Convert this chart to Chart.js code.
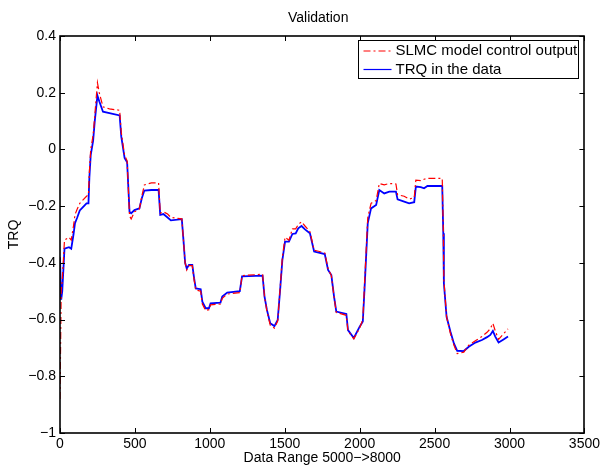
<!DOCTYPE html>
<html>
<head>
<meta charset="utf-8">
<title>Validation</title>
<script src="https://cdn.jsdelivr.net/npm/chart.js@4/dist/chart.umd.min.js"></script>
<style>
    html, body { margin: 0; padding: 0; background: #fff; }
    canvas { display: block; }
</style>
</head>
<body>
<canvas id="chart" width="603" height="467"></canvas>
<script>
// sample positions (data index 0..3000)
const xs = [0, 8, 15, 30, 60, 75, 90, 100, 115, 132, 150, 177, 190, 196, 205, 221, 232, 250, 262, 287,
    330, 398, 409, 431, 448, 464, 475, 497, 530, 546, 563, 610, 658, 669, 690, 718, 740, 813, 824, 835,
    846, 861, 883, 895, 906, 939, 950, 972, 994, 1005, 1071, 1083, 1116, 1200, 1215, 1352, 1365, 1381, 1403, 1431,
    1453, 1469, 1484, 1502, 1528, 1551, 1573, 1590, 1612, 1635, 1668, 1696, 1767, 1789, 1811, 1829, 1844, 1911, 1922, 1961,
    2000, 2021, 2032, 2054, 2076, 2110, 2131, 2164, 2198, 2242, 2253, 2297, 2330, 2364, 2375, 2408, 2430, 2452, 2551, 2558,
    2562, 2580, 2606, 2629, 2651, 2695, 2728, 2772, 2816, 2850, 2872, 2889, 2905, 2927, 2960, 2990];

// SLMC model control output (red dash-dot)
const modelOutput = [-0.88, -0.50, -0.46, -0.32, -0.31, -0.32, -0.27, -0.23, -0.21, -0.19, -0.18, -0.165, -0.16, -0.08, 0.0, 0.05, 0.12, 0.235, 0.20, 0.15,
    0.143, 0.138, 0.06, -0.02, -0.04, -0.235, -0.245, -0.22, -0.21, -0.165, -0.125, -0.118, -0.118, -0.225, -0.22, -0.228, -0.24, -0.245, -0.32, -0.40,
    -0.425, -0.41, -0.41, -0.46, -0.495, -0.50, -0.545, -0.568, -0.565, -0.548, -0.545, -0.525, -0.51, -0.505, -0.445, -0.44, -0.52, -0.57, -0.62, -0.63,
    -0.605, -0.49, -0.38, -0.31, -0.32, -0.28, -0.28, -0.265, -0.255, -0.27, -0.29, -0.355, -0.365, -0.42, -0.445, -0.52, -0.575, -0.585, -0.64, -0.668,
    -0.63, -0.60, -0.48, -0.24, -0.19, -0.18, -0.12, -0.125, -0.12, -0.122, -0.16, -0.165, -0.175, -0.17, -0.108, -0.11, -0.105, -0.102, -0.102, -0.28,
    -0.46, -0.59, -0.65, -0.69, -0.72, -0.715, -0.69, -0.675, -0.66, -0.645, -0.632, -0.613, -0.64, -0.67, -0.65, -0.633];

// TRQ in the data (blue solid)
const trqData = [-0.38, -0.53, -0.50, -0.35, -0.345, -0.35, -0.30, -0.26, -0.24, -0.215, -0.205, -0.19, -0.19, -0.10, -0.02, 0.03, 0.10, 0.19, 0.17, 0.133,
    0.128, 0.12, 0.045, -0.03, -0.045, -0.22, -0.225, -0.214, -0.208, -0.172, -0.145, -0.143, -0.143, -0.231, -0.228, -0.24, -0.25, -0.246, -0.32, -0.40,
    -0.42, -0.407, -0.407, -0.454, -0.49, -0.493, -0.537, -0.56, -0.56, -0.543, -0.54, -0.519, -0.505, -0.50, -0.448, -0.445, -0.519, -0.566, -0.613, -0.623,
    -0.601, -0.496, -0.39, -0.325, -0.325, -0.298, -0.296, -0.278, -0.27, -0.282, -0.296, -0.36, -0.369, -0.425, -0.443, -0.519, -0.572, -0.58, -0.637, -0.665,
    -0.625, -0.607, -0.496, -0.26, -0.208, -0.196, -0.143, -0.155, -0.149, -0.149, -0.176, -0.184, -0.19, -0.186, -0.131, -0.133, -0.137, -0.129, -0.129, -0.296,
    -0.472, -0.59, -0.643, -0.684, -0.71, -0.711, -0.696, -0.681, -0.672, -0.662, -0.654, -0.64, -0.66, -0.681, -0.67, -0.66];

const seriesNames = ['SLMC model control output', 'TRQ in the data'];
const xTicks = [0, 500, 1000, 1500, 2000, 2500, 3000, 3500];
const yTicks = [-1, -0.8, -0.6, -0.4, -0.2, 0, 0.2, 0.4];
const chartTitle = 'Validation';

const FONT = "'Liberation Sans', Arial, Helvetica, sans-serif";
Chart.defaults.font.family = FONT;
Chart.defaults.color = '#000';

function toPoints(values) {
    return xs.map((x, i) => ({ x: x, y: values[i] }));
}

function fmt(v) {
    const r = Math.round(v * 10) / 10;
    return String(r).replace('-', '\u2212');
}

// MATLAB-like box with inward ticks on all four sides, title centred over the axes
const boxAxes = {
    id: 'boxAxes',
    afterDraw(chart) {
        const ctx = chart.ctx;
        const { left, right, top, bottom } = chart.chartArea;
        const sx = chart.scales.x, sy = chart.scales.y;
        const len = 5;
        ctx.save();
        ctx.strokeStyle = '#000';
        ctx.lineWidth = 1;
        ctx.beginPath();
        xTicks.forEach(v => {
            const px = Math.round(sx.getPixelForValue(v)) + 0.5;
            ctx.moveTo(px, bottom); ctx.lineTo(px, bottom - len);
            ctx.moveTo(px, top); ctx.lineTo(px, top + len);
        });
        yTicks.forEach(v => {
            const py = Math.round(sy.getPixelForValue(v)) + 0.5;
            ctx.moveTo(left, py); ctx.lineTo(left + len, py);
            ctx.moveTo(right, py); ctx.lineTo(right - len, py);
        });
        ctx.stroke();
        ctx.lineWidth = 1.6;
        ctx.strokeRect(Math.round(left), Math.round(top),
            Math.round(right - left), Math.round(bottom - top));

        ctx.fillStyle = '#000';
        ctx.font = '14px ' + FONT;
        ctx.textAlign = 'center';
        ctx.textBaseline = 'middle';
        ctx.fillText(chartTitle, (left + right) / 2 - 4, 18);
        ctx.restore();
    }
};

// legend box in the top right corner of the axes
const boxLegend = {
    id: 'boxLegend',
    afterDraw(chart) {
        const ctx = chart.ctx;
        const { right, top } = chart.chartArea;
        const w = 220, h = 38;
        const x0 = Math.round(right - 6 - w) + 0.5, y0 = Math.round(top + 4) + 0.5;
        ctx.save();
        ctx.fillStyle = '#fff';
        ctx.fillRect(x0, y0, w, h);
        ctx.strokeStyle = '#000';
        ctx.lineWidth = 1;
        ctx.strokeRect(x0, y0, w, h);
        ctx.font = '15px ' + FONT;
        ctx.textBaseline = 'middle';
        chart.data.datasets.forEach((ds, i) => {
            const cy = y0 + 10.5 + i * 18.5;
            ctx.strokeStyle = ds.borderColor;
            ctx.lineWidth = 1.2;
            ctx.setLineDash(ds.borderDash || []);
            ctx.beginPath();
            ctx.moveTo(x0 + 5, cy);
            ctx.lineTo(x0 + 33, cy);
            ctx.stroke();
            ctx.setLineDash([]);
            ctx.fillStyle = '#000';
            ctx.fillText(ds.label, x0 + 37, cy);
        });
        ctx.restore();
    }
};

new Chart(document.getElementById('chart'), {
    type: 'line',
    data: {
        datasets: [
            {
                label: seriesNames[0],
                data: toPoints(modelOutput),
                borderColor: '#ff0000',
                borderWidth: 1.2,
                borderDash: [7, 3, 2, 3],
                pointRadius: 0,
                tension: 0
            },
            {
                label: seriesNames[1],
                data: toPoints(trqData),
                borderColor: '#0000ff',
                borderWidth: 1.8,
                pointRadius: 0,
                tension: 0
            }
        ]
    },
    options: {
        responsive: false,
        animation: false,
        devicePixelRatio: 1,
        layout: { padding: { left: 0, right: 15, top: 36, bottom: 0 } },
        plugins: {
            legend: { display: false },
            tooltip: { enabled: false },
            title: { display: false }
        },
        scales: {
            x: {
                type: 'linear',
                min: 0,
                max: 3500,
                afterFit: s => { s.height = 34; },
                afterBuildTicks: s => { s.ticks = xTicks.map(v => ({ value: v })); },
                grid: { display: false, drawTicks: false },
                border: { display: false },
                ticks: { font: { size: 14 }, color: '#000', padding: 3, maxRotation: 0, callback: v => String(v) },
                title: {
                    display: true,
                    text: 'Data Range 5000\u2212>8000',
                    font: { size: 14 },
                    color: '#000',
                    padding: { top: 0, bottom: 0 }
                }
            },
            y: {
                min: -1,
                max: 0.4,
                afterFit: s => { s.width = 60; },
                afterBuildTicks: s => { s.ticks = yTicks.map(v => ({ value: v })); },
                grid: { display: false, drawTicks: false },
                border: { display: false },
                ticks: { font: { size: 14 }, color: '#000', padding: 4, callback: v => fmt(v) },
                title: {
                    display: true,
                    text: 'TRQ',
                    font: { size: 14 },
                    color: '#000',
                    padding: 6
                }
            }
        }
    },
    plugins: [boxAxes, boxLegend]
});
</script>
</body>
</html>
